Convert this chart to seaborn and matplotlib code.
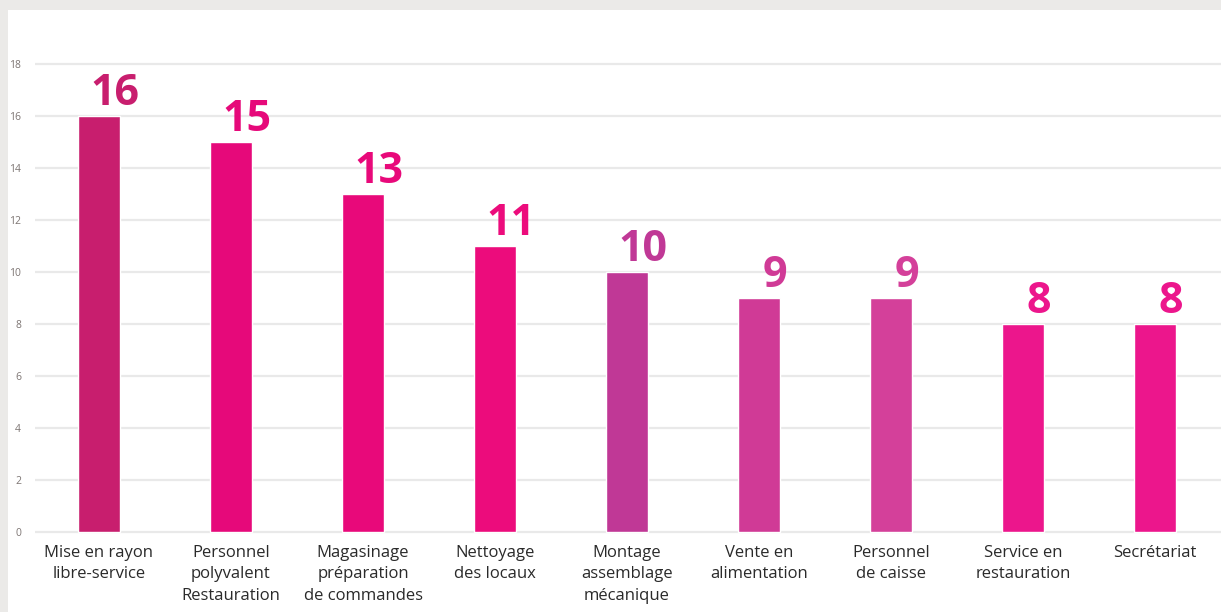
import matplotlib
matplotlib.use("Agg")
import matplotlib.pyplot as plt
import seaborn as sns
import pandas as pd
from matplotlib.patches import Rectangle

categories = ["Mise en rayon\nlibre-service", "Personnel\npolyvalent\nRestauration",
              "Magasinage\npréparation\nde commandes", "Nettoyage\ndes locaux",
              "Montage\nassemblage\nmécanique", "Vente en\nalimentation",
              "Personnel\nde caisse", "Service en\nrestauration", "Secrétariat"]
values = [16, 15, 13, 11, 10, 9, 9, 8, 8]
colors = ["#c81e6e", "#e6097a", "#e8097a", "#ec0c7c", "#c03896",
          "#d03a96", "#d4409a", "#ec168c", "#ec168c"]
yticks = [0, 2, 4, 6, 8, 10, 12, 14, 16, 18]

sns.set_theme(style="white")
plt.rcParams["font.family"] = ["Open Sans", "DejaVu Sans"]

W, H = 1221, 612
fig = plt.figure(figsize=(W / 100, H / 100), dpi=100, facecolor="#ebeae8")
bg = Rectangle((8 / W, 0), 1 - 8 / W, 1 - 10 / H, transform=fig.transFigure,
               facecolor="white", edgecolor="none", zorder=-10)
fig.add_artist(bg)

# pixel geometry: y=0 at 532px, y=18 at 64px (26 px/unit); x cat0 at 99px, step 132px
left_px, right_px = 35, 1221
bot_px, top_px = 538, 20
ax = fig.add_axes([left_px / W, (H - bot_px) / H, (right_px - left_px) / W, (bot_px - top_px) / H])
ax.set_facecolor("none")
ax.set_zorder(1)

df = pd.DataFrame({"cat": categories, "val": values})
sns.barplot(data=df, x="cat", y="val", hue="cat", palette=colors, legend=False,
            width=0.32, ax=ax, saturation=1, zorder=3)

ax.set_xlim((left_px - 99) / 132, (right_px - 99) / 132)
ax.set_ylim((532 - bot_px) / 26, (532 - top_px) / 26)
ax.set_yticks(yticks)
ax.set_yticklabels([str(t) for t in yticks], color="#7d7573", fontsize=7.5)
ax.yaxis.grid(True, color="#e9e9e9", linewidth=1.6, zorder=0)
ax.set_axisbelow(True)
ax.tick_params(axis="y", length=0, pad=10)
ax.tick_params(axis="x", length=0, pad=5)
ax.set_xticks(range(len(categories)))
ax.set_xticklabels(categories, fontsize=12, color="#2a2a2a", linespacing=1.45, va="top")
for s in ax.spines.values():
    s.set_visible(False)
ax.set_xlabel("")
ax.set_ylabel("")

for i, (v, c) in enumerate(zip(values, colors)):
    ax.text(i + 0.12, v + 0.42, str(v), ha="center", va="baseline", fontsize=31,
            fontweight="bold", color=c, zorder=4)

fig.savefig("out.png", dpi=100, facecolor=fig.get_facecolor())
